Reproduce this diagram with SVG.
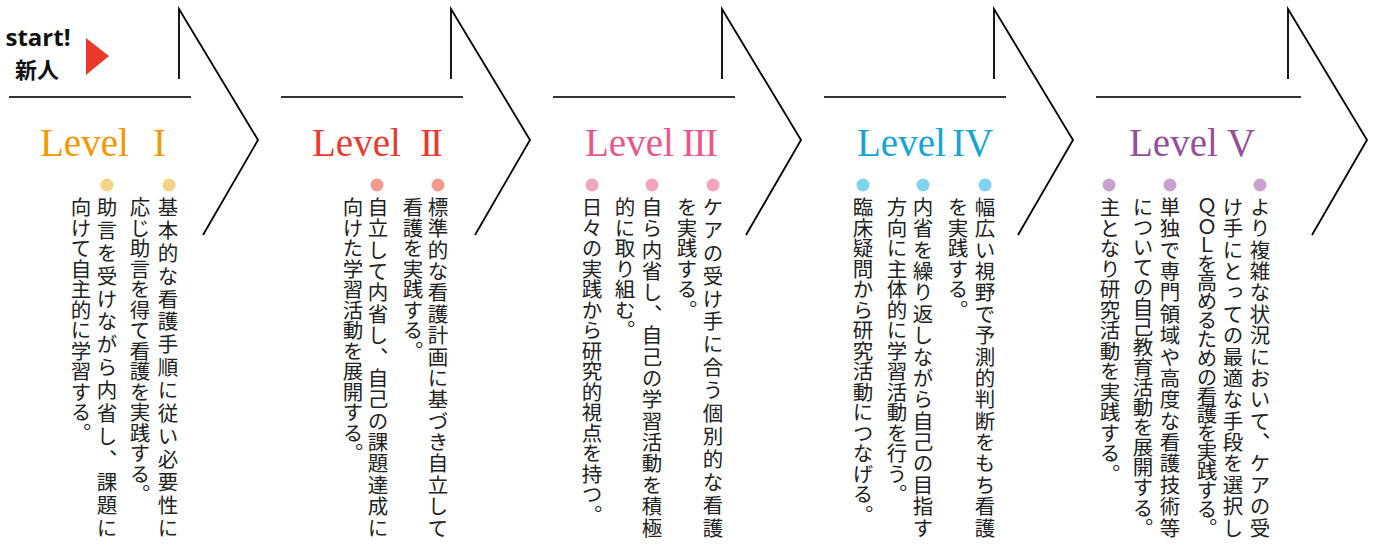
<svg xmlns="http://www.w3.org/2000/svg" width="1381" height="545" viewBox="0 0 1381 545">
<style>
.hl{stroke:#333;stroke-width:2;fill:none}
.chev{stroke:#000;stroke-width:1.8;fill:none;stroke-linejoin:miter}
.lvl{font-family:'Liberation Serif','Times New Roman',serif;font-size:39px}
.vt{font-family:'Noto Sans CJK JP',sans-serif;font-size:20.5px;fill:#222;writing-mode:vertical-rl}
.c1{fill:#F39800}.c2{fill:#E83A2E}.c3{fill:#E8578A}.c4{fill:#13A5D6}.c5{fill:#934F9C}
.d1{fill:#F3D386}.d2{fill:#F29A8E}.d3{fill:#F2A4C1}.d4{fill:#80D2EE}.d5{fill:#C8A1CE}
</style>
<rect width="1381" height="545" fill="#fff"/>
<g id="start">
<text x="38" y="46" text-anchor="middle" font-family="'Open Sans','Noto Sans',sans-serif" font-weight="700" font-size="24" fill="#111">start!</text>
<text x="37" y="78" text-anchor="middle" font-family="'Noto Sans CJK JP',sans-serif" font-weight="700" font-size="22" fill="#111">新人</text>
<polygon points="86,38 86,75 109,56" fill="#E8392B"/>
</g>
<g id="connectors">
<path class="hl" d="M9,97H191M281,97H463M553,97H735M824,97H1006M1096,97H1301"/>
<path class="chev" d="M179,79V9L258,140L203,235"/>
<path class="chev" d="M451,79V9L530,140L475,235"/>
<path class="chev" d="M722,79V9L801,140L746,235"/>
<path class="chev" d="M994,79V9L1073,140L1018,235"/>
<path class="chev" d="M1288,79V9L1367,140L1312,235"/>
</g>
<g id="level1">
<text class="lvl c1" y="156"><tspan x="40">Level</tspan><tspan x="153">I</tspan></text>
<circle class="d1" cx="169" cy="185" r="6.5"/>
<circle class="d1" cx="107" cy="185" r="6.5"/>
<text class="vt" x="168" y="197" textLength="341" lengthAdjust="spacing">基本的な看護手順に従い必要性に</text>
<text class="vt" x="140" y="197">応じ助言を得て看護を実践する。</text>
<text class="vt" x="107" y="197" textLength="341" lengthAdjust="spacing">助言を受けながら内省し、課題に</text>
<text class="vt" x="81" y="197">向けて自主的に学習する。</text>
</g>
<g id="level2">
<text class="lvl c2" y="156"><tspan x="312">Level</tspan><tspan x="420" letter-spacing="-3">II</tspan></text>
<circle class="d2" cx="438" cy="185" r="6.5"/>
<circle class="d2" cx="377" cy="185" r="6.5"/>
<text class="vt" x="438" y="197" textLength="341" lengthAdjust="spacing">標準的な看護計画に基づき自立して</text>
<text class="vt" x="413" y="197">看護を実践する。</text>
<text class="vt" x="378" y="197" textLength="341" lengthAdjust="spacing">自立して内省し、自己の課題達成に</text>
<text class="vt" x="353" y="197">向けた学習活動を展開する。</text>
</g>
<g id="level3">
<text class="lvl c3" y="156"><tspan x="585">Level</tspan><tspan x="682" letter-spacing="-1.5">III</tspan></text>
<circle class="d3" cx="713" cy="185" r="6.5"/>
<circle class="d3" cx="652" cy="185" r="6.5"/>
<circle class="d3" cx="592" cy="185" r="6.5"/>
<text class="vt" x="713" y="197" textLength="341" lengthAdjust="spacing">ケアの受け手に合う個別的な看護</text>
<text class="vt" x="687" y="197">を実践する。</text>
<text class="vt" x="652" y="197" textLength="341" lengthAdjust="spacing">自ら内省し、自己の学習活動を積極</text>
<text class="vt" x="625" y="197">的に取り組む。</text>
<text class="vt" x="592" y="197">日々の実践から研究的視点を持つ。</text>
</g>
<g id="level4">
<text class="lvl c4" y="156"><tspan x="857">Level</tspan><tspan x="952">IV</tspan></text>
<circle class="d4" cx="985" cy="185" r="6.5"/>
<circle class="d4" cx="923" cy="185" r="6.5"/>
<circle class="d4" cx="863" cy="185" r="6.5"/>
<text class="vt" x="985" y="197" textLength="341" lengthAdjust="spacing">幅広い視野で予測的判断をもち看護</text>
<text class="vt" x="958" y="197">を実践する。</text>
<text class="vt" x="923" y="197" textLength="341" lengthAdjust="spacing">内省を繰り返しながら自己の目指す</text>
<text class="vt" x="897" y="197">方向に主体的に学習活動を行う。</text>
<text class="vt" x="863" y="197">臨床疑問から研究活動につなげる。</text>
</g>
<g id="level5">
<text class="lvl c5" y="156"><tspan x="1129">Level</tspan><tspan x="1227">V</tspan></text>
<circle class="d5" cx="1260" cy="185" r="6.5"/>
<circle class="d5" cx="1170" cy="185" r="6.5"/>
<circle class="d5" cx="1109" cy="185" r="6.5"/>
<text class="vt" x="1260" y="197" textLength="341" lengthAdjust="spacing">より複雑な状況において、ケアの受</text>
<text class="vt" x="1233" y="197" textLength="341" lengthAdjust="spacing">け手にとっての最適な手段を選択し</text>
<text class="vt" x="1207" y="197" textLength="341" lengthAdjust="spacing">ＱＯＬを高めるための看護を実践する。</text>
<text class="vt" x="1170" y="197" textLength="341" lengthAdjust="spacing">単独で専門領域や高度な看護技術等</text>
<text class="vt" x="1143" y="197" textLength="341" lengthAdjust="spacing">についての自己教育活動を展開する。</text>
<text class="vt" x="1110" y="197">主となり研究活動を実践する。</text>
</g>
</svg>
